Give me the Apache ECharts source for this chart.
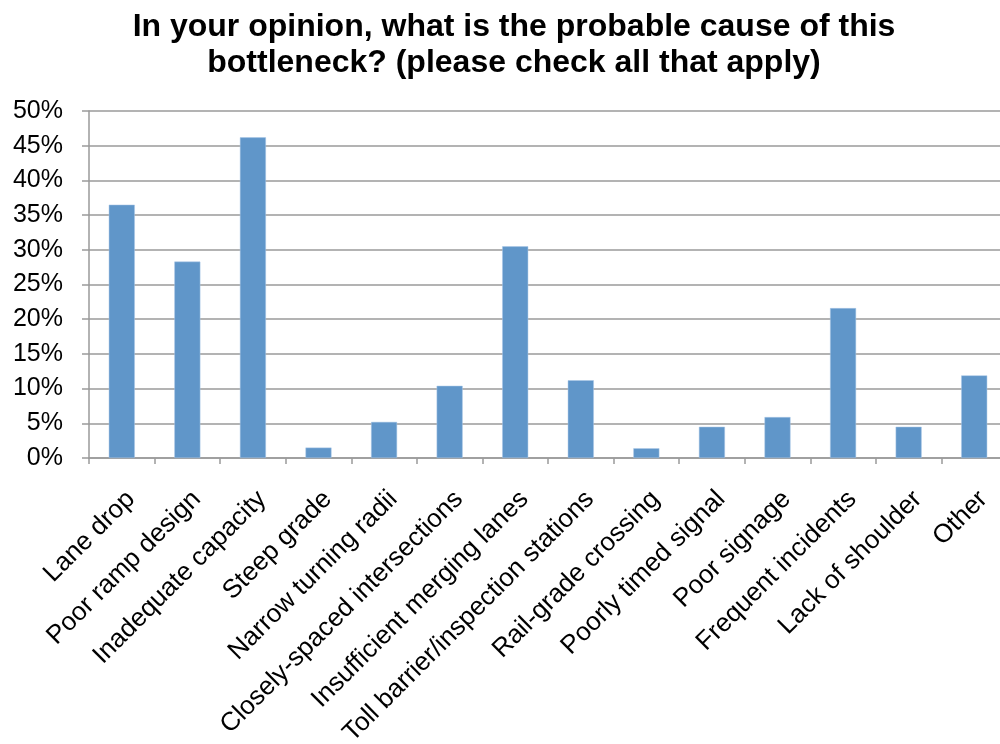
<!DOCTYPE html>
<html>
<head>
<meta charset="utf-8">
<script src="https://cdn.jsdelivr.net/npm/echarts@6/dist/echarts.min.js"></script>
<style>
  html, body { margin: 0; padding: 0; background: #fff; }
  #chart { width: 1000px; height: 744px; }
</style>
</head>
<body>
<div id="chart"></div>
<script>
// Survey responses: probable causes of the bottleneck (share of respondents, %)
const categories = [
  'Lane drop', 'Poor ramp design', 'Inadequate capacity', 'Steep grade',
  'Narrow turning radii', 'Closely-spaced intersections', 'Insufficient merging lanes',
  'Toll barrier/inspection stations', 'Rail-grade crossing', 'Poorly timed signal',
  'Poor signage', 'Frequent incidents', 'Lack of shoulder', 'Other'
];
const shares = [36.5, 28.3, 46.2, 1.5, 5.2, 10.4, 30.5, 11.2, 1.4, 4.5, 5.9, 21.6, 4.5, 11.9];
const yTicks = [0, 5, 10, 15, 20, 25, 30, 35, 40, 45, 50];

const titleText = 'In your opinion, what is the probable cause of this\nbottleneck? (please check all that apply)';

const chart = echarts.init(document.getElementById('chart'), null, { renderer: 'canvas' });
chart.setOption({
  animation: false,
  backgroundColor: '#ffffff',
  title: {
    text: titleText,
    left: 509,
    top: 4,
    textAlign: 'center',
    textStyle: {
      fontFamily: 'Liberation Sans, Arial, sans-serif',
      fontWeight: 'bold',
      fontSize: 32,
      lineHeight: 36,
      color: '#000'
    }
  },
  // fixed plot box; labels may run to the page edge
  grid: { left: 89, top: 111, width: 918, height: 347, containLabel: false, outerBoundsMode: 'none' },
  xAxis: {
    type: 'category',
    data: categories,
    axisLine: { lineStyle: { color: '#9a9a9a', width: 1.5 } },
    axisTick: { show: true, length: 6, lineStyle: { color: '#9a9a9a', width: 1.5 } },
    axisLabel: {
      rotate: 45,
      interval: 0,
      margin: 28,
      align: 'right',
      verticalAlign: 'top',
      fontFamily: 'Liberation Sans, Arial, sans-serif',
      fontSize: 26,
      color: '#000'
    }
  },
  yAxis: {
    type: 'value',
    min: yTicks[0],
    max: yTicks[yTicks.length - 1],
    interval: 5,
    axisLine: { show: true, lineStyle: { color: '#9a9a9a', width: 1.5 } },
    axisTick: { show: true, length: 7, lineStyle: { color: '#9a9a9a', width: 1.5 } },
    splitLine: { lineStyle: { color: '#9a9a9a', width: 1.5 } },
    axisLabel: {
      margin: 26,
      formatter: v => v + '%',
      fontFamily: 'Liberation Sans, Arial, sans-serif',
      fontSize: 25,
      color: '#000'
    }
  },
  series: [{
    type: 'bar',
    data: shares,
    barWidth: 26,
    itemStyle: { color: '#6096c9', borderColor: '#a9c6e6', borderWidth: 0.5 }
  }]
});
</script>
</body>
</html>
